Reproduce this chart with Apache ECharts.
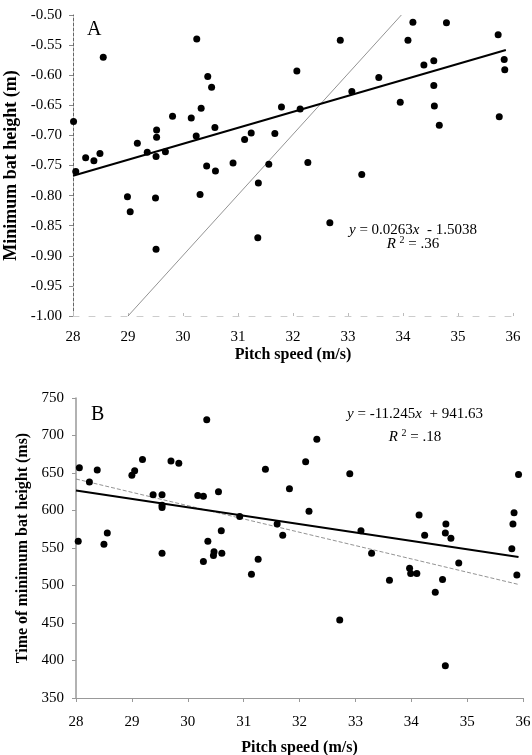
<!DOCTYPE html>
<html>
<head>
<meta charset="UTF-8">
<title>Pitch speed vs bat height</title>
<style>
  html, body { margin: 0; padding: 0; background: #fff; }
  #chart { width: 532px; height: 755px; }
</style>
</head>
<body>
<div id="chart"></div>
<script src="https://cdn.jsdelivr.net/npm/echarts@6/dist/echarts.min.js"></script>
<script>
// Panel A: minimum bat height (m) vs pitch speed (m/s)
var speedA = [28.01, 28.05, 28.23, 28.38, 28.49, 28.55, 28.99, 29.04, 29.17, 29.35,
  29.50, 29.51, 29.51, 29.52, 29.52, 29.68, 29.81, 30.15, 30.24, 30.25,
  30.31, 30.33, 30.43, 30.45, 30.52, 30.58, 30.59, 30.91, 31.12, 31.24,
  31.36, 31.37, 31.56, 31.67, 31.79, 32.07, 32.13, 32.27, 32.67, 32.86,
  33.07, 33.25, 33.56, 33.95, 34.09, 34.18, 34.38, 34.56, 34.56, 34.57,
  34.66, 34.79, 35.73, 35.75, 35.84, 35.85];
var heightA = [-0.677, -0.760, -0.737, -0.742, -0.730, -0.570, -0.802, -0.827, -0.713, -0.728,
  -0.804, -0.889, -0.735, -0.703, -0.691, -0.727, -0.668, -0.671, -0.701, -0.540,
  -0.798, -0.655, -0.751, -0.602, -0.620, -0.687, -0.759, -0.746, -0.707, -0.696,
  -0.870, -0.779, -0.748, -0.697, -0.653, -0.593, -0.656, -0.745, -0.845, -0.542,
  -0.627, -0.765, -0.604, -0.645, -0.542, -0.512, -0.583, -0.576, -0.617, -0.651,
  -0.683, -0.513, -0.533, -0.669, -0.574, -0.591];
var fitA = [[28, -0.767], [35.87, -0.558]];
var thinA = [[29, -1.0], [33.97, -0.5]];

// Panel B: time of minimum bat height (ms) vs pitch speed (m/s)
var speedB = [28.04, 28.06, 28.24, 28.38, 28.50, 28.56, 29.00, 29.05, 29.19, 29.38,
  29.54, 29.54, 29.54, 29.54, 29.70, 29.84, 30.18, 30.28, 30.28, 30.34,
  30.36, 30.46, 30.47, 30.55, 30.60, 30.61, 30.93, 31.14, 31.26, 31.39,
  31.60, 31.70, 31.82, 32.11, 32.17, 32.31, 32.72, 32.90, 33.10, 33.29,
  33.61, 33.97, 33.99, 34.10, 34.14, 34.24, 34.43, 34.56, 34.61, 34.62,
  34.61, 34.71, 34.85, 35.80, 35.82, 35.84, 35.89, 35.92];
var timeB = [559, 657, 638, 654, 555, 570, 647, 653, 668, 621,
  621, 607, 604, 543, 666, 663, 620, 619, 532, 721,
  559, 540, 545, 625, 573, 543, 592, 515, 535, 655,
  582, 567, 629, 665, 599, 695, 454, 649, 573, 543,
  507, 523, 516, 516, 594, 567, 491, 508, 570, 582,
  393, 563, 530, 549, 582, 597, 514, 648];
var fitB = [[28, 626.8], [35.92, 538]];
var thinB = [[28, 642], [35.91, 501.6]];

var eqA = ['{i|y} = 0.0263{i|x}  - 1.5038', '{i|R} {s|2} = .36'];
var eqB = ['{i|y} = -11.245{i|x}  + 941.63', '{i|R} {s|2} = .18'];

function pairs(xs, ys) {
  var out = [];
  for (var i = 0; i < xs.length; i++) out.push([xs[i], ys[i]]);
  return out;
}

var serif = 'Liberation Serif';
var richStyles = {
  i: { fontFamily: serif, fontSize: 15, fontStyle: 'italic', color: '#000' },
  s: { fontFamily: serif, fontSize: 10, color: '#000', verticalAlign: 'top', padding: [0, 0, 8, 0] }
};
var nameStyle = { fontFamily: serif, fontSize: 16, fontWeight: 'bold', color: '#000' };

var myChart = echarts.init(document.getElementById('chart'));

var option = {
  backgroundColor: '#fff',
  animation: false,
  textStyle: { fontFamily: serif },
  grid: [
    { left: 73, right: 19, top: 15, height: 301, outerBoundsMode: 'none', containLabel: false },
    { left: 76, right: 9, top: 398, height: 300, outerBoundsMode: 'none', containLabel: false }
  ],
  xAxis: [{
    gridIndex: 0, type: 'value', min: 28, max: 36, interval: 1,
    name: 'Pitch speed (m/s)', nameLocation: 'middle', nameGap: 31,
    nameTextStyle: nameStyle,
    axisLine: { show: true, lineStyle: { color: '#ccc', width: 1, type: [6, 10] } },
    axisTick: { show: true, inside: true, length: 3, lineStyle: { color: '#bbb' } },
    axisLabel: { fontFamily: serif, fontSize: 15, color: '#000', margin: 14 },
    splitLine: { show: false }
  }, {
    gridIndex: 1, type: 'value', min: 28, max: 36, interval: 1,
    name: 'Pitch speed (m/s)', nameLocation: 'middle', nameGap: 42,
    nameTextStyle: nameStyle,
    axisLine: { show: true, lineStyle: { color: '#999', width: 1.2 } },
    axisTick: { show: true, length: 4, lineStyle: { color: '#999' } },
    axisLabel: { fontFamily: serif, fontSize: 15, color: '#000', margin: 17 },
    splitLine: { show: false }
  }],
  yAxis: [{
    gridIndex: 0, type: 'value', min: -1.0, max: -0.5, interval: 0.05,
    name: 'Minimum bat height (m)', nameLocation: 'middle', nameGap: 42, nameRotate: 90,
    nameTextStyle: { fontFamily: serif, fontSize: 18, fontWeight: 'bold', color: '#000' },
    axisLine: { show: true, lineStyle: { color: '#666', width: 1, type: [3, 2] } },
    axisTick: { show: true, length: 4, lineStyle: { color: '#888' } },
    axisLabel: {
      fontFamily: serif, fontSize: 15, color: '#000', margin: 11,
      formatter: function (v) { return v.toFixed(2); }
    },
    splitLine: { show: false }
  }, {
    gridIndex: 1, type: 'value', min: 350, max: 750, interval: 50,
    name: 'Time of minimum bat height (ms)', nameLocation: 'middle', nameGap: 41, nameRotate: 90,
    nameTextStyle: nameStyle,
    axisLine: { show: true, lineStyle: { color: '#999', width: 1.5 } },
    axisTick: { show: true, length: 4, lineStyle: { color: '#999' } },
    axisLabel: { fontFamily: serif, fontSize: 15, color: '#000', margin: 12 },
    splitLine: { show: false }
  }],
  series: [{
    type: 'line', xAxisIndex: 0, yAxisIndex: 0, data: thinA,
    symbol: 'none', lineStyle: { color: '#777', width: 0.8 }, z: 1
  }, {
    type: 'line', xAxisIndex: 0, yAxisIndex: 0, data: fitA,
    symbol: 'none', lineStyle: { color: '#000', width: 2 }, z: 2
  }, {
    type: 'scatter', xAxisIndex: 0, yAxisIndex: 0, data: pairs(speedA, heightA),
    symbolSize: 7, itemStyle: { color: '#000', opacity: 1 }, z: 3
  }, {
    type: 'line', xAxisIndex: 1, yAxisIndex: 1, data: thinB,
    symbol: 'none', lineStyle: { color: '#777', width: 0.8, type: [4, 2] }, z: 1
  }, {
    type: 'line', xAxisIndex: 1, yAxisIndex: 1, data: fitB,
    symbol: 'none', lineStyle: { color: '#000', width: 2 }, z: 2
  }, {
    type: 'scatter', xAxisIndex: 1, yAxisIndex: 1, data: pairs(speedB, timeB),
    symbolSize: 7, itemStyle: { color: '#000', opacity: 1 }, z: 3
  }],
  graphic: [
    { type: 'text', left: 87, top: 20, style: { text: 'A', font: '20px "Liberation Serif"', fill: '#000' } },
    { type: 'text', left: 91, top: 405, style: { text: 'B', font: '20px "Liberation Serif"', fill: '#000' } },
    { type: 'text', x: 413, y: 230, style: { text: eqA[0], align: 'center', verticalAlign: 'middle',
      font: '15px "Liberation Serif"', fill: '#000', rich: richStyles } },
    { type: 'text', x: 413, y: 244, style: { text: eqA[1], align: 'center', verticalAlign: 'middle',
      font: '15px "Liberation Serif"', fill: '#000', rich: richStyles } },
    { type: 'text', x: 415, y: 414, style: { text: eqB[0], align: 'center', verticalAlign: 'middle',
      font: '15px "Liberation Serif"', fill: '#000', rich: richStyles } },
    { type: 'text', x: 415, y: 437, style: { text: eqB[1], align: 'center', verticalAlign: 'middle',
      font: '15px "Liberation Serif"', fill: '#000', rich: richStyles } }
  ]
};

myChart.setOption(option);
</script>
</body>
</html>
